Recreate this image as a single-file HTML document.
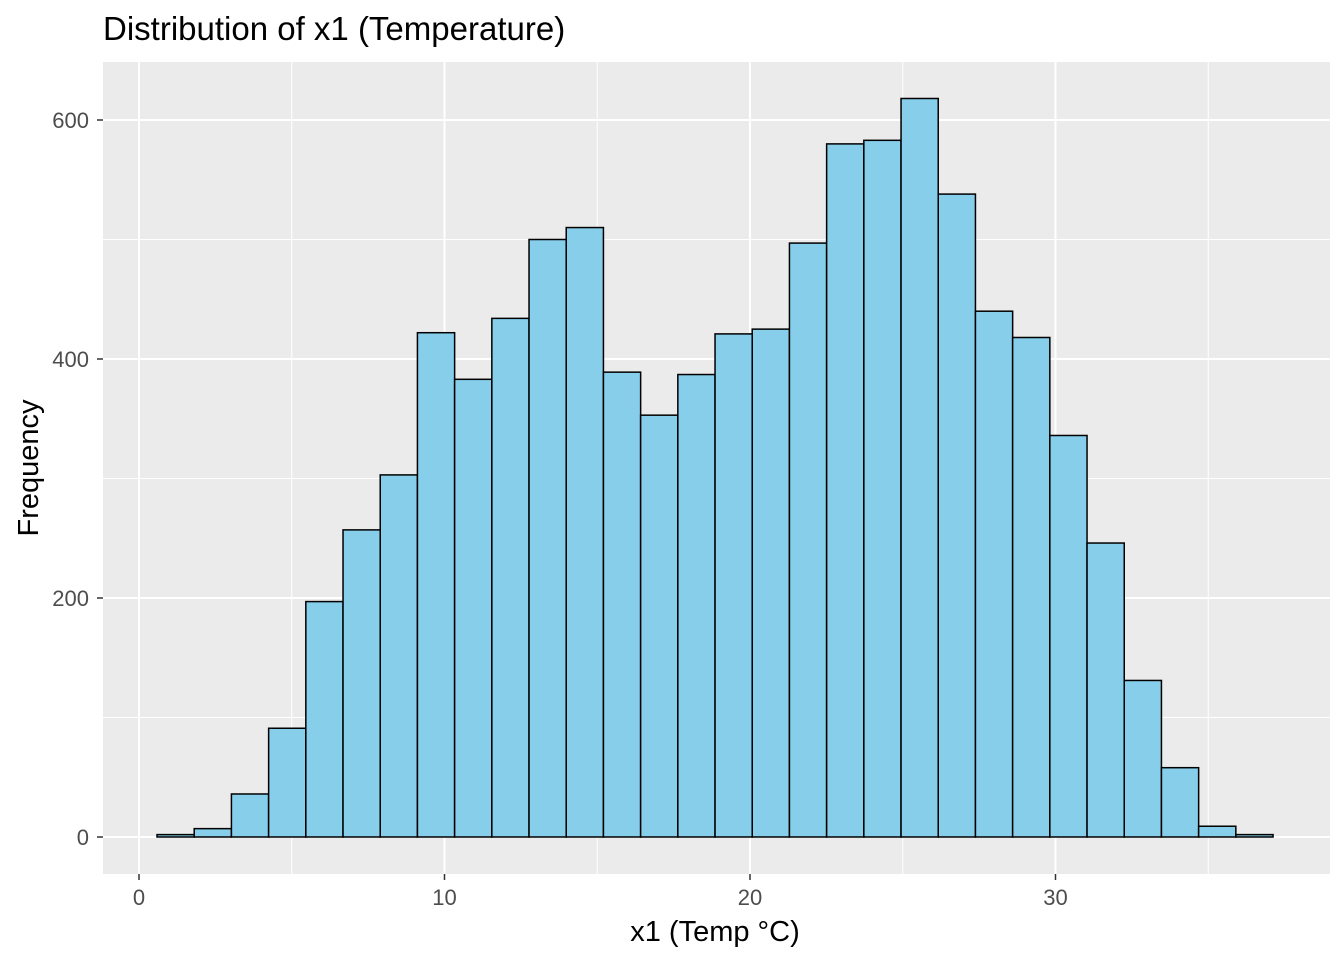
<!DOCTYPE html>
<html><head><meta charset="utf-8"><style>
body{margin:0;background:#fff;}
svg text{font-family:"Liberation Sans",Arial,sans-serif;}
</style></head><body>
<svg id="chart" width="1344" height="960">
<text x="103" y="40" font-size="33" fill="#000">Distribution of x1 (Temperature)</text>
<rect x="103" y="62" width="1227" height="812" fill="#EBEBEB"/>
<g id="grid"></g><g id="bars"></g><g id="axes"></g>
<text x="715" y="941" font-size="29" text-anchor="middle" fill="#000">x1 (Temp °C)</text>
<text transform="translate(38,468) rotate(-90)" font-size="29" text-anchor="middle" fill="#000">Frequency</text>
</svg>
<script>
const binStart = 0.59;
const binWidth = 1.2177;
const counts = [2,7,36,91,197,257,303,422,383,434,500,510,389,353,387,421,425,497,580,583,618,538,440,418,336,246,131,58,9,2];
const xTicks = [0,10,20,30];
const xMinor = [5,15,25,35];
const yTicks = [0,200,400,600];
const yMinor = [100,300,500];
const NS="http://www.w3.org/2000/svg";
const X=v=>139+v*30.55, Y=v=>837-v*1.195;
const L=103,R=1330,T=62,B=874;
function mk(tag,at,p){const e=document.createElementNS(NS,tag);for(const k in at)e.setAttribute(k,at[k]);p.appendChild(e);return e;}
const g=document.getElementById('grid'),b=document.getElementById('bars'),a=document.getElementById('axes');
yMinor.forEach(v=>{const e=mk('line',{x1:L,x2:R,y1:Y(v),y2:Y(v),stroke:'#fff','stroke-width':1},g);

});
xMinor.forEach(v=>{const e=mk('line',{x1:X(v),x2:X(v),y1:T,y2:B,stroke:'#fff','stroke-width':1},g);

});
yTicks.forEach(v=>{const e=mk('line',{x1:L,x2:R,y1:Y(v),y2:Y(v),stroke:'#fff','stroke-width':2},g);


const t=mk('text',{x:89,y:Y(v)+8,'font-size':22,'text-anchor':'end',fill:'#4D4D4D'},a);t.textContent=v;


mk('line',{x1:97,x2:103,y1:Y(v),y2:Y(v),stroke:'#333','stroke-width':1.5},a);});
xTicks.forEach(v=>{const e=mk('line',{x1:X(v),x2:X(v),y1:T,y2:B,stroke:'#fff','stroke-width':2},g);


const t=mk('text',{x:X(v),y:905,'font-size':22,'text-anchor':'middle',fill:'#4D4D4D'},a);t.textContent=v;


mk('line',{x1:X(v),x2:X(v),y1:874,y2:880,stroke:'#333','stroke-width':1.5},a);});
counts.forEach((c,i)=>{const x0=X(binStart+i*binWidth),x1=X(binStart+(i+1)*binWidth);
const r=mk('rect',{x:x0,y:Y(c),width:x1-x0,height:Y(0)-Y(c),fill:'#87CEEB',stroke:'#000','stroke-width':1.5},b);

});
</script>
</body></html>
